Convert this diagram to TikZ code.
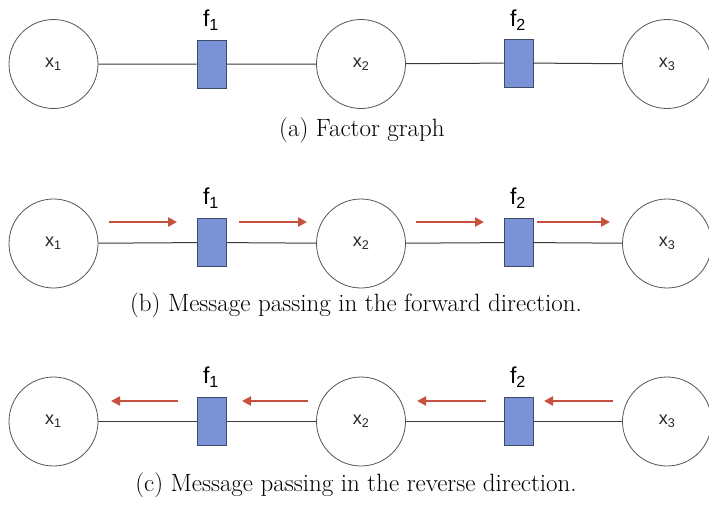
\documentclass[tikz,border=0pt]{standalone}
\usepackage{fontspec}
\newfontfamily\labelfont{Liberation Sans}
\usetikzlibrary{arrows.meta}
\definecolor{factorfill}{HTML}{7A93D6}
\definecolor{factordraw}{HTML}{3D4A6A}
\definecolor{msgred}{HTML}{C8503E}
\definecolor{edgegray}{HTML}{3A3A3A}
\definecolor{rimgray}{HTML}{555555}
\begin{document}
\begin{tikzpicture}[x=1pt,y=-1pt,
  varnode/.style={circle,draw=rimgray,line width=0.8pt,minimum size=89pt,inner sep=0pt,
    text=black!85,font=\labelfont\fontsize{18}{20}\selectfont},
  factornode/.style={rectangle,draw=factordraw,fill=factorfill,line width=0.8pt,
    minimum width=29pt,minimum height=48pt,inner sep=0pt},
  flabel/.style={font=\labelfont\fontsize{23}{25}\selectfont,inner sep=0pt},
  edge/.style={draw=edgegray,line width=1pt},
  msg/.style={draw=msgred,line width=2.6pt,-{Triangle[length=9pt,width=9pt]}},
  caption/.style={font=\fontsize{25}{30}\selectfont,inner sep=0pt}]
\useasboundingbox (0,0) rectangle (709,506);
\fill[white] (0,0) rectangle (709,506);

% (a) factor graph
\node[varnode] (a1) at (53.5,64) {x\textsubscript{1}};
\node[varnode] (a2) at (361,64) {x\textsubscript{2}};
\node[varnode] (a3) at (667,64) {x\textsubscript{3}};
\node[factornode] (af1) at (211.5,64) {};
\node[factornode] (af2) at (518.5,63) {};
\node[flabel] (afl1) at (211,20) {f\textsubscript{1}};
\node[flabel] (afl2) at (518,20) {f\textsubscript{2}};
\draw[edge] (a1) -- (af1) -- (a2) -- (af2) -- (a3);
\node[caption] (capa) at (362,130) {(a) Factor graph};

% (b) forward messages
\node[varnode] (b1) at (53.5,243.5) {x\textsubscript{1}};
\node[varnode] (b2) at (361,243.5) {x\textsubscript{2}};
\node[varnode] (b3) at (667,243.5) {x\textsubscript{3}};
\node[factornode] (bf1) at (212,242.5) {};
\node[factornode] (bf2) at (519,242.5) {};
\node[flabel] (bfl1) at (211,198) {f\textsubscript{1}};
\node[flabel] (bfl2) at (518,198) {f\textsubscript{2}};
\draw[edge] (b1) -- (bf1) -- (b2) -- (bf2) -- (b3);
\coordinate (bm1s) at (109,222); \coordinate (bm1e) at (177,222);
\coordinate (bm2s) at (239,222); \coordinate (bm2e) at (307,222);
\coordinate (bm3s) at (416,222); \coordinate (bm3e) at (484,222);
\coordinate (bm4s) at (537,222); \coordinate (bm4e) at (610,222);
\draw[msg] (bm1s) -- (bm1e);
\draw[msg] (bm2s) -- (bm2e);
\draw[msg] (bm3s) -- (bm3e);
\draw[msg] (bm4s) -- (bm4e);
\node[caption] (capb) at (356,305) {(b) Message passing in the forward direction.};

% (c) reverse messages
\node[varnode] (c1) at (53.5,421.5) {x\textsubscript{1}};
\node[varnode] (c2) at (361,421.5) {x\textsubscript{2}};
\node[varnode] (c3) at (667,421.5) {x\textsubscript{3}};
\node[factornode] (cf1) at (212,421.5) {};
\node[factornode] (cf2) at (519,421.5) {};
\node[flabel] (cfl1) at (211,377) {f\textsubscript{1}};
\node[flabel] (cfl2) at (518,377) {f\textsubscript{2}};
\draw[edge] (c1) -- (cf1) -- (c2) -- (cf2) -- (c3);
\coordinate (cm1s) at (178,401); \coordinate (cm1e) at (111,401);
\coordinate (cm2s) at (308,401); \coordinate (cm2e) at (242,401);
\coordinate (cm3s) at (486,401); \coordinate (cm3e) at (417,401);
\coordinate (cm4s) at (613,401); \coordinate (cm4e) at (544,401);
\draw[msg] (cm1s) -- (cm1e);
\draw[msg] (cm2s) -- (cm2e);
\draw[msg] (cm3s) -- (cm3e);
\draw[msg] (cm4s) -- (cm4e);
\node[caption] (capc) at (356,485) {(c) Message passing in the reverse direction.};
\end{tikzpicture}
\end{document}
